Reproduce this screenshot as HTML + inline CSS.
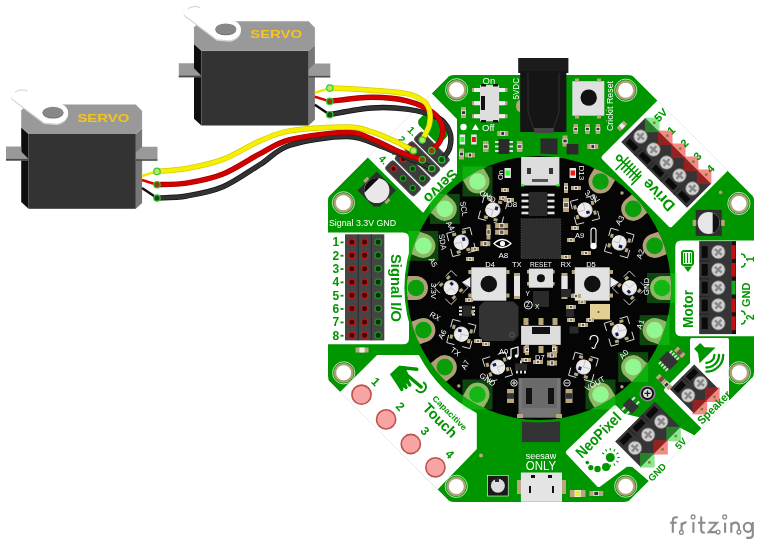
<!DOCTYPE html><html><head><meta charset="utf-8"><style>html,body{margin:0;padding:0;background:#fff;overflow:hidden}svg{display:block;will-change:transform}text{font-family:"Liberation Sans",sans-serif}</style></head><body>
<svg width="766" height="548" viewBox="0 0 766 548">
<rect width="766" height="548" fill="#fff"/>
<path d="M454,75 L628,75 Q632,75 634,77 L752,195 Q754,197 754,201 L754,372 Q754,376 752,378 L630,500 Q628,502 624,502 L454,502 Q450,502 448,500 L330,382 Q328,380 328,376 L328,201 Q328,197 330,195 L448,77 Q450,75 454,75 Z" fill="#009600"/>
<path d="M430.9,93.9 L456,119.5 L456,176.5 A139,139 0 0 0 423,211.4 L368.25,156.55 Z" fill="#fff" stroke="#fff" stroke-linejoin="round" stroke-width="2"/>
<path d="M328,232.5 L403,232.5 Q409,232.5 409,238.5 L409,338.3 Q409,344.3 403,344.3 L328,344.3 Z" fill="#fff"/>
<path d="M341.6,392.6 L377.9,356.4 L418,356.4 A140,140 0 0 0 475.3,414 L475.3,448.5 L437.5,487.5 Z" fill="#fff" stroke="#fff" stroke-linejoin="round" stroke-width="3"/>
<polygon points="659.2,102.2 604,157.4 670.5,224.7 726,169" fill="#fff" stroke="#fff" stroke-linejoin="round" stroke-width="5"/>
<path d="M681.3,240.4 L754,240.4 L754,336.2 L681.3,336.2 Q675.3,336.2 675.3,330.2 L675.3,246.4 Q675.3,240.4 681.3,240.4 Z" fill="#fff"/>
<polygon points="692,340 727,340 727,403 703,427 666,390 692,364" fill="#fff" stroke="#fff" stroke-linejoin="round" stroke-width="4"/>
<polygon points="568.3,452.3 614.9,407.8 623,416 660,425 679,430 692.7,437.3 651,479.5 633.5,464.5 626.5,464 598.8,484.5" fill="#fff" stroke="#fff" stroke-linejoin="round" stroke-width="5"/>
<path d="M634,77 L752,195 M752,378 L630,500 M448,500 L330,382 M330,195 L448,77" stroke="#e6e6e6" stroke-width="0.8" fill="none"/>
<circle cx="456.6" cy="89.8" r="11.1" fill="none" stroke="#c8ecc8" stroke-width="0.9"/><circle cx="456.6" cy="89.8" r="9.9" fill="#b0a078"/><circle cx="456.6" cy="89.8" r="7.5" fill="#fff"/>
<circle cx="343.4" cy="202.8" r="11.1" fill="none" stroke="#c8ecc8" stroke-width="0.9"/><circle cx="343.4" cy="202.8" r="9.9" fill="#b0a078"/><circle cx="343.4" cy="202.8" r="7.5" fill="#fff"/>
<circle cx="738.9" cy="203.5" r="11.1" fill="none" stroke="#c8ecc8" stroke-width="0.9"/><circle cx="738.9" cy="203.5" r="9.9" fill="#b0a078"/><circle cx="738.9" cy="203.5" r="7.5" fill="#fff"/>
<circle cx="739.4" cy="372.8" r="11.1" fill="none" stroke="#c8ecc8" stroke-width="0.9"/><circle cx="739.4" cy="372.8" r="9.9" fill="#b0a078"/><circle cx="739.4" cy="372.8" r="7.5" fill="#fff"/>
<circle cx="625.7" cy="486.2" r="11.1" fill="none" stroke="#c8ecc8" stroke-width="0.9"/><circle cx="625.7" cy="486.2" r="9.9" fill="#b0a078"/><circle cx="625.7" cy="486.2" r="7.5" fill="#fff"/>
<circle cx="456.3" cy="486.4" r="11.1" fill="none" stroke="#c8ecc8" stroke-width="0.9"/><circle cx="456.3" cy="486.4" r="9.9" fill="#b0a078"/><circle cx="456.3" cy="486.4" r="7.5" fill="#fff"/>
<circle cx="343.7" cy="372.8" r="11.1" fill="none" stroke="#c8ecc8" stroke-width="0.9"/><circle cx="343.7" cy="372.8" r="9.9" fill="#b0a078"/><circle cx="343.7" cy="372.8" r="7.5" fill="#fff"/>
<circle cx="625.7" cy="90.2" r="11.1" fill="none" stroke="#c8ecc8" stroke-width="0.9"/><circle cx="625.7" cy="90.2" r="9.9" fill="#b0a078"/><circle cx="625.7" cy="90.2" r="7.5" fill="#fff"/>
<g transform="translate(692.1,188.8) rotate(-135.0)">
<rect x="-9.8" y="-17.0" width="93.0" height="34.0" fill="#353535"/>
<rect x="-6.1" y="-14.5" width="12.1" height="6" fill="#0a0a0a"/>
<rect x="8.6" y="-17.0" width="1.2" height="9.4" fill="#262626"/>
<circle cx="0.0" cy="0.5" r="6.8" fill="#cfcfcf" stroke="#777" stroke-width="0.8"/>
<path d="M-4.5,0.5 h9 M0.0,-4 v9" stroke="#8a8a8a" stroke-width="2.4" transform="rotate(175.0 0.0 0.5)"/>
<rect x="12.3" y="-14.5" width="12.1" height="6" fill="#0a0a0a"/>
<rect x="26.9" y="-17.0" width="1.2" height="9.4" fill="#262626"/>
<circle cx="18.4" cy="0.5" r="6.8" fill="#cfcfcf" stroke="#777" stroke-width="0.8"/>
<path d="M13.9,0.5 h9 M18.4,-4 v9" stroke="#8a8a8a" stroke-width="2.4" transform="rotate(175.0 18.4 0.5)"/>
<rect x="30.6" y="-14.5" width="12.1" height="6" fill="#0a0a0a"/>
<rect x="45.3" y="-17.0" width="1.2" height="9.4" fill="#262626"/>
<circle cx="36.7" cy="0.5" r="6.8" fill="#cfcfcf" stroke="#777" stroke-width="0.8"/>
<path d="M32.2,0.5 h9 M36.7,-4 v9" stroke="#8a8a8a" stroke-width="2.4" transform="rotate(175.0 36.7 0.5)"/>
<rect x="49.0" y="-14.5" width="12.1" height="6" fill="#0a0a0a"/>
<rect x="63.6" y="-17.0" width="1.2" height="9.4" fill="#262626"/>
<circle cx="55.1" cy="0.5" r="6.8" fill="#cfcfcf" stroke="#777" stroke-width="0.8"/>
<path d="M50.6,0.5 h9 M55.1,-4 v9" stroke="#8a8a8a" stroke-width="2.4" transform="rotate(175.0 55.1 0.5)"/>
<rect x="67.3" y="-14.5" width="12.1" height="6" fill="#0a0a0a"/>
<circle cx="73.4" cy="0.5" r="6.8" fill="#cfcfcf" stroke="#777" stroke-width="0.8"/>
<path d="M68.9,0.5 h9 M73.4,-4 v9" stroke="#8a8a8a" stroke-width="2.4" transform="rotate(175.0 73.4 0.5)"/>
</g>
<rect x="696.8" y="169.5" width="14.6" height="14.6" fill="#ee1111" opacity="0.5"/>
<circle cx="706.2" cy="174.7" r="1.4" fill="#6a8a20"/>
<rect x="683.8" y="156.5" width="14.6" height="14.6" fill="#ee1111" opacity="0.5"/>
<circle cx="693.3" cy="161.7" r="1.4" fill="#6a8a20"/>
<rect x="670.9" y="143.5" width="14.6" height="14.6" fill="#ee1111" opacity="0.5"/>
<circle cx="680.3" cy="148.7" r="1.4" fill="#6a8a20"/>
<rect x="657.9" y="130.6" width="14.6" height="14.6" fill="#ee1111" opacity="0.5"/>
<circle cx="667.3" cy="135.7" r="1.4" fill="#6a8a20"/>
<rect x="644.9" y="117.6" width="14.6" height="14.6" fill="#22cc22" opacity="0.5"/>
<circle cx="654.3" cy="122.8" r="1.4" fill="#6a8a20"/>
<g transform="translate(717.8,323.2) rotate(-90.0)">
<rect x="-10.9" y="-18.6" width="93.0" height="32.0" fill="#353535"/>
<rect x="-5.9" y="-16.1" width="11.7" height="6" fill="#0a0a0a"/>
<rect x="8.3" y="-18.6" width="1.2" height="10.2" fill="#262626"/>
<circle cx="0.0" cy="0.5" r="6.8" fill="#cfcfcf" stroke="#777" stroke-width="0.8"/>
<path d="M-4.5,0.5 h9 M0.0,-4 v9" stroke="#8a8a8a" stroke-width="2.4" transform="rotate(130.0 0.0 0.5)"/>
<rect x="11.9" y="-16.1" width="11.7" height="6" fill="#0a0a0a"/>
<rect x="26.1" y="-18.6" width="1.2" height="10.2" fill="#262626"/>
<circle cx="17.8" cy="0.5" r="6.8" fill="#cfcfcf" stroke="#777" stroke-width="0.8"/>
<path d="M13.3,0.5 h9 M17.8,-4 v9" stroke="#8a8a8a" stroke-width="2.4" transform="rotate(130.0 17.8 0.5)"/>
<rect x="29.7" y="-16.1" width="11.7" height="6" fill="#0a0a0a"/>
<rect x="43.9" y="-18.6" width="1.2" height="10.2" fill="#262626"/>
<circle cx="35.6" cy="0.5" r="6.8" fill="#cfcfcf" stroke="#777" stroke-width="0.8"/>
<path d="M31.1,0.5 h9 M35.6,-4 v9" stroke="#8a8a8a" stroke-width="2.4" transform="rotate(130.0 35.6 0.5)"/>
<rect x="47.5" y="-16.1" width="11.7" height="6" fill="#0a0a0a"/>
<rect x="61.7" y="-18.6" width="1.2" height="10.2" fill="#262626"/>
<circle cx="53.4" cy="0.5" r="6.8" fill="#cfcfcf" stroke="#777" stroke-width="0.8"/>
<path d="M48.9,0.5 h9 M53.4,-4 v9" stroke="#8a8a8a" stroke-width="2.4" transform="rotate(130.0 53.4 0.5)"/>
<rect x="65.3" y="-16.1" width="11.7" height="6" fill="#0a0a0a"/>
<circle cx="71.2" cy="0.5" r="6.8" fill="#cfcfcf" stroke="#777" stroke-width="0.8"/>
<path d="M66.7,0.5 h9 M71.2,-4 v9" stroke="#8a8a8a" stroke-width="2.4" transform="rotate(130.0 71.2 0.5)"/>
<rect x="-10.9" y="13.4" width="93.0" height="4.8" fill="#111"/>
<rect x="-6.9" y="13.8" width="13.8" height="4" fill="#ee1111" opacity="0.8"/>
<rect x="10.9" y="13.8" width="13.8" height="4" fill="#ee1111" opacity="0.8"/>
<rect x="28.7" y="13.8" width="13.8" height="4" fill="#22cc22" opacity="0.8"/>
<rect x="46.5" y="13.8" width="13.8" height="4" fill="#ee1111" opacity="0.8"/>
<rect x="64.3" y="13.8" width="13.8" height="4" fill="#ee1111" opacity="0.8"/>
</g>
<g transform="translate(687.8,395.1) rotate(-45.0)">
<rect x="-8.5" y="-17.0" width="34.6" height="34.0" fill="#353535"/>
<rect x="-5.8" y="-14.5" width="11.6" height="6" fill="#0a0a0a"/>
<rect x="8.2" y="-17.0" width="1.2" height="9.4" fill="#262626"/>
<circle cx="0.0" cy="0.5" r="6.8" fill="#cfcfcf" stroke="#777" stroke-width="0.8"/>
<path d="M-4.5,0.5 h9 M0.0,-4 v9" stroke="#8a8a8a" stroke-width="2.4" transform="rotate(85.0 0.0 0.5)"/>
<rect x="11.8" y="-14.5" width="11.6" height="6" fill="#0a0a0a"/>
<circle cx="17.6" cy="0.5" r="6.8" fill="#cfcfcf" stroke="#777" stroke-width="0.8"/>
<path d="M13.1,0.5 h9 M17.6,-4 v9" stroke="#8a8a8a" stroke-width="2.4" transform="rotate(85.0 17.6 0.5)"/>
</g>
<rect x="692.5" y="399.8" width="14.6" height="14.6" fill="#ee1111" opacity="0.5"/>
<circle cx="701.9" cy="409.2" r="1.4" fill="#6a8a20"/>
<rect x="705.0" y="387.4" width="14.6" height="14.6" fill="#ee1111" opacity="0.5"/>
<circle cx="714.4" cy="396.8" r="1.4" fill="#6a8a20"/>
<g transform="translate(634.6,447.6) rotate(-45.0)">
<rect x="-9.5" y="-18.0" width="56.2" height="36.0" fill="#353535"/>
<rect x="-6.1" y="-15.5" width="12.3" height="6" fill="#0a0a0a"/>
<rect x="8.7" y="-18.0" width="1.2" height="9.9" fill="#262626"/>
<circle cx="0.0" cy="0.5" r="6.8" fill="#cfcfcf" stroke="#777" stroke-width="0.8"/>
<path d="M-4.5,0.5 h9 M0.0,-4 v9" stroke="#8a8a8a" stroke-width="2.4" transform="rotate(85.0 0.0 0.5)"/>
<rect x="12.5" y="-15.5" width="12.3" height="6" fill="#0a0a0a"/>
<rect x="27.3" y="-18.0" width="1.2" height="9.9" fill="#262626"/>
<circle cx="18.6" cy="0.5" r="6.8" fill="#cfcfcf" stroke="#777" stroke-width="0.8"/>
<path d="M14.1,0.5 h9 M18.6,-4 v9" stroke="#8a8a8a" stroke-width="2.4" transform="rotate(85.0 18.6 0.5)"/>
<rect x="31.1" y="-15.5" width="12.3" height="6" fill="#0a0a0a"/>
<circle cx="37.2" cy="0.5" r="6.8" fill="#cfcfcf" stroke="#777" stroke-width="0.8"/>
<path d="M32.7,0.5 h9 M37.2,-4 v9" stroke="#8a8a8a" stroke-width="2.4" transform="rotate(85.0 37.2 0.5)"/>
</g>
<rect x="640.0" y="453.0" width="14.6" height="14.6" fill="#22cc22" opacity="0.5"/>
<circle cx="649.4" cy="462.4" r="1.4" fill="#6a8a20"/>
<rect x="653.2" y="439.9" width="14.6" height="14.6" fill="#ee1111" opacity="0.5"/>
<circle cx="662.6" cy="449.3" r="1.4" fill="#6a8a20"/>
<rect x="666.3" y="426.7" width="14.6" height="14.6" fill="#22cc22" opacity="0.5"/>
<circle cx="675.8" cy="436.1" r="1.4" fill="#6a8a20"/>
<text transform="translate(658.7,122.4) rotate(-45.0)" font-size="11.0" fill="#009600" font-weight="bold">5V</text>
<text transform="translate(671.8,135.2) rotate(-45.0)" font-size="11.0" fill="#009600" font-weight="bold">1</text>
<text transform="translate(684.9,148.1) rotate(-45.0)" font-size="11.0" fill="#009600" font-weight="bold">2</text>
<text transform="translate(698.0,160.9) rotate(-45.0)" font-size="11.0" fill="#009600" font-weight="bold">3</text>
<text transform="translate(711.1,173.8) rotate(-45.0)" font-size="11.0" fill="#009600" font-weight="bold">4</text>
<text transform="translate(676.0,205.0) rotate(-135.0)" font-size="15.5" fill="#009600" font-weight="bold">Drive</text>
<g transform="translate(619.3,158.1) rotate(45)" stroke="#009600" stroke-width="1.6" stroke-linecap="round" fill="none"><circle r="2.5"/><path d="M2.5,0 H26 M5.7,-6.6 V10.4 M9.5,-5.5 V6.5 M13.3,-5.5 V6.5 M17.1,-5.5 V6.5 M20.9,-5.5 V6.5 M24.7,-5.5 V6.5 M27.5,-3 V10"/></g>
<text transform="translate(693.0,328.0) rotate(-90.0)" font-size="14.0" fill="#009600" textLength="38.0" lengthAdjust="spacingAndGlyphs" font-weight="bold">Motor</text>
<rect x="682" y="251" width="11" height="14" rx="2" fill="none" stroke="#009600" stroke-width="2"/>
<path d="M684.5,253 v10 M687.5,253 v10 M690.5,253 v10 M685,267 h6 l-3,4z" stroke="#009600" stroke-width="1.2" fill="#009600"/>
<text transform="translate(750.0,307.0) rotate(-90.0)" font-size="11.0" fill="#009600" font-weight="bold">GND</text>
<path d="M741,254 q4,0 4,4 M741,267 q4,0 4,-4 M741,311 q4,0 4,4 M741,324 q4,0 4,-4" stroke="#009600" stroke-width="1.6" fill="none"/>
<text transform="translate(754.0,262.0) rotate(-90.0)" font-size="10.0" fill="#009600" font-weight="bold">1</text>
<text transform="translate(754.0,320.0) rotate(-90.0)" font-size="10.0" fill="#009600" font-weight="bold">2</text>
<text transform="translate(702.0,425.0) rotate(-45.0)" font-size="11.5" fill="#009600" textLength="42.0" lengthAdjust="spacingAndGlyphs" font-weight="bold">Speaker</text>
<path d="M694.1,348.7 L700.3,343 L704.5,347.2 L715.6,347.6 L699.5,363.3 L698,353 Z" fill="#009600"/>
<path d="M706.4,362.9 A8,8 0 0 0 714.4,354.9 M706.4,367.5 A12.6,12.6 0 0 0 719,354.9 M706.4,371.7 A16.8,16.8 0 0 0 723.2,354.9" stroke="#009600" stroke-width="2.3" fill="none" stroke-linecap="round"/>
<text transform="translate(582.0,459.0) rotate(-45.0)" font-size="15.5" fill="#009600" textLength="57.0" lengthAdjust="spacingAndGlyphs" font-weight="bold">NeoPixel</text>
<text transform="translate(652.0,482.0) rotate(-45.0)" font-size="9.5" fill="#009600" font-weight="bold">GND</text>
<text transform="translate(679.0,450.0) rotate(-45.0)" font-size="9.5" fill="#009600" font-weight="bold">5V</text>
<circle cx="610.3" cy="457.5" r="4.5" fill="#009600"/>
<line x1="604.2" y1="454.0" x2="602.1" y2="452.8" stroke="#009600" stroke-width="1.1"/>
<line x1="606.8" y1="451.4" x2="605.5" y2="449.3" stroke="#009600" stroke-width="1.1"/>
<line x1="610.3" y1="450.5" x2="610.3" y2="448.0" stroke="#009600" stroke-width="1.1"/>
<line x1="613.8" y1="451.4" x2="615.0" y2="449.3" stroke="#009600" stroke-width="1.1"/>
<line x1="616.4" y1="454.0" x2="618.5" y2="452.8" stroke="#009600" stroke-width="1.1"/>
<line x1="617.3" y1="457.5" x2="619.8" y2="457.5" stroke="#009600" stroke-width="1.1"/>
<line x1="616.4" y1="461.0" x2="618.5" y2="462.2" stroke="#009600" stroke-width="1.1"/>
<line x1="613.8" y1="463.6" x2="615.0" y2="465.7" stroke="#009600" stroke-width="1.1"/>
<line x1="610.3" y1="464.5" x2="610.3" y2="467.0" stroke="#009600" stroke-width="1.1"/>
<line x1="606.8" y1="463.6" x2="605.5" y2="465.7" stroke="#009600" stroke-width="1.1"/>
<circle cx="587.3" cy="462.6" r="1.8" fill="#009600"/><circle cx="590.8" cy="467.6" r="2.6" fill="#009600"/><circle cx="597.5" cy="469" r="3.2" fill="#009600"/><circle cx="606" cy="467" r="4" fill="#009600"/>
<text transform="translate(431.8,398.9) rotate(45.0)" font-size="8.2" fill="#009600" textLength="45.0" lengthAdjust="spacingAndGlyphs" font-weight="bold">Capacitive</text>
<text transform="translate(421.7,409.0) rotate(45.0)" font-size="14.5" fill="#009600" textLength="42.0" lengthAdjust="spacingAndGlyphs" font-weight="bold">Touch</text>
<circle cx="361.5" cy="394.7" r="9.6" fill="#f6a4a4" stroke="#c0504a" stroke-width="1.6"/>
<text transform="translate(370.5,382.2) rotate(45.0)" font-size="12.0" fill="#009600" font-weight="bold">1</text>
<circle cx="386.1" cy="419.4" r="9.6" fill="#f6a4a4" stroke="#c0504a" stroke-width="1.6"/>
<text transform="translate(395.1,406.9) rotate(45.0)" font-size="12.0" fill="#009600" font-weight="bold">2</text>
<circle cx="410.8" cy="444.0" r="9.6" fill="#f6a4a4" stroke="#c0504a" stroke-width="1.6"/>
<text transform="translate(419.8,431.5) rotate(45.0)" font-size="12.0" fill="#009600" font-weight="bold">3</text>
<circle cx="435.4" cy="467.3" r="9.6" fill="#f6a4a4" stroke="#c0504a" stroke-width="1.6"/>
<text transform="translate(444.4,454.8) rotate(45.0)" font-size="12.0" fill="#009600" font-weight="bold">4</text>
<path d="M389.9,374.3 L399,365.7 L405,366.5 L410,378 L405,386 L401,391 Z" fill="#009600"/>
<path d="M400.5,367.5 L416.8,369.2 M404,372.5 L421.2,387 M398.5,381 L401.8,389.5 M402,379 L406,387.5 M405.5,378 L409.8,385" stroke="#009600" stroke-width="3.4" stroke-linecap="round" fill="none"/>
<path d="M416.4,390 A5.3,5.3 0 1 0 423.8,382.6" stroke="#009600" stroke-width="2" fill="none" stroke-linecap="round"/>
<rect x="345" y="234.3" width="39.3" height="106.1" fill="#454545"/>
<path d="M358.2,234.3 v106.1 M371.3,234.3 v106.1" stroke="#2a2a2a" stroke-width="1"/>
<circle cx="351.9" cy="242.0" r="3.2" fill="#4a0606" stroke="#c41818" stroke-width="1.3"/>
<circle cx="364.6" cy="242.0" r="3.2" fill="#4a0606" stroke="#c41818" stroke-width="1.3"/>
<circle cx="378.2" cy="242.0" r="3.2" fill="#083008" stroke="#1c9a1c" stroke-width="1.3"/>
<text x="332.5" y="246.3" font-size="12.0" fill="#009600" font-weight="bold">1</text>
<rect x="340.5" y="241.5" width="3" height="1.8" fill="#009600"/>
<circle cx="351.9" cy="255.3" r="3.2" fill="#4a0606" stroke="#c41818" stroke-width="1.3"/>
<circle cx="364.6" cy="255.3" r="3.2" fill="#4a0606" stroke="#c41818" stroke-width="1.3"/>
<circle cx="378.2" cy="255.3" r="3.2" fill="#083008" stroke="#1c9a1c" stroke-width="1.3"/>
<text x="332.5" y="259.6" font-size="12.0" fill="#009600" font-weight="bold">2</text>
<rect x="340.5" y="254.8" width="3" height="1.8" fill="#009600"/>
<circle cx="351.9" cy="268.7" r="3.2" fill="#4a0606" stroke="#c41818" stroke-width="1.3"/>
<circle cx="364.6" cy="268.7" r="3.2" fill="#4a0606" stroke="#c41818" stroke-width="1.3"/>
<circle cx="378.2" cy="268.7" r="3.2" fill="#083008" stroke="#1c9a1c" stroke-width="1.3"/>
<text x="332.5" y="273.0" font-size="12.0" fill="#009600" font-weight="bold">3</text>
<rect x="340.5" y="268.2" width="3" height="1.8" fill="#009600"/>
<circle cx="351.9" cy="282.0" r="3.2" fill="#4a0606" stroke="#c41818" stroke-width="1.3"/>
<circle cx="364.6" cy="282.0" r="3.2" fill="#4a0606" stroke="#c41818" stroke-width="1.3"/>
<circle cx="378.2" cy="282.0" r="3.2" fill="#083008" stroke="#1c9a1c" stroke-width="1.3"/>
<text x="332.5" y="286.3" font-size="12.0" fill="#009600" font-weight="bold">4</text>
<rect x="340.5" y="281.5" width="3" height="1.8" fill="#009600"/>
<circle cx="351.9" cy="295.3" r="3.2" fill="#4a0606" stroke="#c41818" stroke-width="1.3"/>
<circle cx="364.6" cy="295.3" r="3.2" fill="#4a0606" stroke="#c41818" stroke-width="1.3"/>
<circle cx="378.2" cy="295.3" r="3.2" fill="#083008" stroke="#1c9a1c" stroke-width="1.3"/>
<text x="332.5" y="299.6" font-size="12.0" fill="#009600" font-weight="bold">5</text>
<rect x="340.5" y="294.8" width="3" height="1.8" fill="#009600"/>
<circle cx="351.9" cy="308.6" r="3.2" fill="#4a0606" stroke="#c41818" stroke-width="1.3"/>
<circle cx="364.6" cy="308.6" r="3.2" fill="#4a0606" stroke="#c41818" stroke-width="1.3"/>
<circle cx="378.2" cy="308.6" r="3.2" fill="#083008" stroke="#1c9a1c" stroke-width="1.3"/>
<text x="332.5" y="312.9" font-size="12.0" fill="#009600" font-weight="bold">6</text>
<rect x="340.5" y="308.1" width="3" height="1.8" fill="#009600"/>
<circle cx="351.9" cy="322.0" r="3.2" fill="#4a0606" stroke="#c41818" stroke-width="1.3"/>
<circle cx="364.6" cy="322.0" r="3.2" fill="#4a0606" stroke="#c41818" stroke-width="1.3"/>
<circle cx="378.2" cy="322.0" r="3.2" fill="#083008" stroke="#1c9a1c" stroke-width="1.3"/>
<text x="332.5" y="326.3" font-size="12.0" fill="#009600" font-weight="bold">7</text>
<rect x="340.5" y="321.5" width="3" height="1.8" fill="#009600"/>
<circle cx="351.9" cy="335.3" r="3.2" fill="#4a0606" stroke="#c41818" stroke-width="1.3"/>
<circle cx="364.6" cy="335.3" r="3.2" fill="#4a0606" stroke="#c41818" stroke-width="1.3"/>
<circle cx="378.2" cy="335.3" r="3.2" fill="#083008" stroke="#1c9a1c" stroke-width="1.3"/>
<text x="332.5" y="339.6" font-size="12.0" fill="#009600" font-weight="bold">8</text>
<rect x="340.5" y="334.8" width="3" height="1.8" fill="#009600"/>
<text x="329.0" y="225.5" font-size="9.4" fill="#fff" textLength="67.0" lengthAdjust="spacingAndGlyphs">Signal 3.3V GND</text>
<text transform="translate(390.5,254.0) rotate(90.0)" font-size="15.5" fill="#009600" textLength="68.0" lengthAdjust="spacingAndGlyphs" font-weight="bold">Signal I/O</text>
<g transform="translate(362.0,350.0) rotate(0.0)"><rect x="-6.5" y="-2.5" width="13.0" height="5.0" fill="#b8a77c"/><rect x="-2.6" y="-2.5" width="5.2" height="5.0" fill="#eee"/></g>
<g transform="translate(433,128) rotate(45)"><rect x="-16" y="-8" width="32" height="16" rx="5" fill="#009600"/></g>
<g transform="translate(422.3,140.0) rotate(45)"><rect x="-7" y="-5.9" width="41" height="11.8" rx="3" fill="#3c3c3c" stroke="#5a5a5a" stroke-width="0.9"/></g>
<circle cx="422.3" cy="140.0" r="2.7" fill="#4a0606" stroke="#c41818" stroke-width="1.2"/>
<circle cx="431.9" cy="149.6" r="2.7" fill="#083008" stroke="#1c9a1c" stroke-width="1.2"/>
<circle cx="441.5" cy="159.2" r="2.7" fill="#083008" stroke="#1c9a1c" stroke-width="1.2"/>
<g transform="translate(412.7,149.6) rotate(45)"><rect x="-7" y="-5.9" width="41" height="11.8" rx="3" fill="#3c3c3c" stroke="#5a5a5a" stroke-width="0.9"/></g>
<circle cx="412.7" cy="149.6" r="2.7" fill="#4a0606" stroke="#c41818" stroke-width="1.2"/>
<circle cx="422.3" cy="159.2" r="2.7" fill="#083008" stroke="#1c9a1c" stroke-width="1.2"/>
<circle cx="431.9" cy="168.8" r="2.7" fill="#083008" stroke="#1c9a1c" stroke-width="1.2"/>
<g transform="translate(403.1,159.2) rotate(45)"><rect x="-7" y="-5.9" width="41" height="11.8" rx="3" fill="#3c3c3c" stroke="#5a5a5a" stroke-width="0.9"/></g>
<circle cx="403.1" cy="159.2" r="2.7" fill="#4a0606" stroke="#c41818" stroke-width="1.2"/>
<circle cx="412.7" cy="168.8" r="2.7" fill="#083008" stroke="#1c9a1c" stroke-width="1.2"/>
<circle cx="422.3" cy="178.4" r="2.7" fill="#083008" stroke="#1c9a1c" stroke-width="1.2"/>
<g transform="translate(393.5,168.8) rotate(45)"><rect x="-7" y="-5.9" width="41" height="11.8" rx="3" fill="#3c3c3c" stroke="#5a5a5a" stroke-width="0.9"/></g>
<circle cx="393.5" cy="168.8" r="2.7" fill="#4a0606" stroke="#c41818" stroke-width="1.2"/>
<circle cx="403.1" cy="178.4" r="2.7" fill="#083008" stroke="#1c9a1c" stroke-width="1.2"/>
<circle cx="412.7" cy="188.0" r="2.7" fill="#083008" stroke="#1c9a1c" stroke-width="1.2"/>
<text transform="translate(406.8,130.5) rotate(45.0)" font-size="10.0" fill="#009600" font-weight="bold">1.</text>
<text transform="translate(397.2,140.1) rotate(45.0)" font-size="10.0" fill="#009600" font-weight="bold">2.</text>
<text transform="translate(387.6,149.7) rotate(45.0)" font-size="10.0" fill="#009600" font-weight="bold">3.</text>
<text transform="translate(378.0,159.3) rotate(45.0)" font-size="10.0" fill="#009600" font-weight="bold">4.</text>
<text transform="translate(452.0,168.0) rotate(135.0)" font-size="15.0" fill="#009600" font-weight="bold">Servo</text>
<circle cx="720.6" cy="192.4" r="1.8" fill="#b0a078"/>
<g transform="translate(376.8,190.5) rotate(45)"><rect x="-16.5" y="-2.8" width="4" height="5.6" fill="#b8a57a"/><rect x="12.5" y="-2.8" width="4" height="5.6" fill="#b8a57a"/><path d="M-13.5,-13.5 H13.5 V9 L9,13.5 H-13.5 Z" fill="#2e2e2e"/><circle r="12.6" fill="#e8e8e8"/><path d="M-7.2,-10.3 A12.6,12.6 0 0 0 -7.2,10.3 Z" fill="#0c0c0c"/></g>
<g transform="translate(708.7,222.9)"><rect x="-13" y="-13" width="26" height="26" fill="#2e2e2e"/><rect x="-16" y="-3" width="3.5" height="6" fill="#b8a57a"/><rect x="12.5" y="-3" width="3.5" height="6" fill="#b8a57a"/><circle r="11" fill="#e6e6e6"/><path d="M4,-10.2 A11,11 0 0 1 4,10.2 Z" fill="#111"/></g>
<rect x="518.2" y="58" width="50.2" height="15" fill="#1c1c1c"/>
<rect x="520.2" y="71" width="46.2" height="61" fill="#151515"/>
<path d="M528,73 V112 L534,130 H553 L559,112 V73" fill="none" stroke="#2c2c2c" stroke-width="1.2"/>
<rect x="534" y="128" width="20" height="5" fill="#444"/>
<path d="M520,100 a4,6 0 0 0 0,12 z" fill="#b8a77c"/>
<rect x="472" y="88.0" width="35.5" height="4" fill="#b8a77c"/>
<rect x="474" y="88.0" width="31" height="4" fill="#eee"/>
<rect x="472" y="101.2" width="35.5" height="4" fill="#b8a77c"/>
<rect x="474" y="101.2" width="31" height="4" fill="#eee"/>
<rect x="472" y="114.2" width="35.5" height="4" fill="#b8a77c"/>
<rect x="474" y="114.2" width="31" height="4" fill="#eee"/>
<rect x="480" y="85.1" width="19.1" height="36.1" fill="#dedede"/>
<rect x="481" y="84" width="5" height="2.5" fill="#111"/><rect x="493" y="84" width="5" height="2.5" fill="#111"/><rect x="481" y="120" width="5" height="2.5" fill="#111"/><rect x="493" y="120" width="5" height="2.5" fill="#111"/>
<rect x="481" y="96" width="4" height="14" fill="#111"/>
<text x="482.5" y="83.8" font-size="9.5" fill="#fff">On</text>
<text x="482.0" y="130.8" font-size="9.5" fill="#fff">Off</text>
<text transform="translate(519.0,99.5) rotate(-90.0)" font-size="9.5" fill="#fff" textLength="21.5" lengthAdjust="spacingAndGlyphs">5VDC</text>
<circle cx="463.5" cy="127" r="3.2" fill="#fff"/><path d="M472,130 l3.5,-6 l3.5,6 z" fill="#fff"/>
<rect x="572.3" y="81.2" width="32" height="34.5" fill="#e0e0e0"/>
<rect x="575" y="78.5" width="4" height="3" fill="#b8a77c"/><rect x="597" y="78.5" width="4" height="3" fill="#b8a77c"/><rect x="575" y="115.5" width="4" height="3" fill="#b8a77c"/><rect x="597" y="115.5" width="4" height="3" fill="#b8a77c"/>
<circle cx="588.7" cy="97.6" r="8.2" fill="#111"/>
<text transform="translate(613.0,131.0) rotate(-90.0)" font-size="8.2" fill="#fff" textLength="50.0" lengthAdjust="spacingAndGlyphs">Crickit Reset</text>
<g transform="translate(622.0,126.0) rotate(-45.0)"><rect x="-5.0" y="-2.5" width="10.0" height="5.0" fill="#b8a77c"/><rect x="-2.0" y="-2.5" width="4.0" height="5.0" fill="#eee"/></g>
<rect x="459.6" y="134.5" width="5.5" height="10" fill="#e8e8e8"/><rect x="460.4" y="137" width="3.9" height="5" fill="#2f2"/>
<rect x="471.2" y="134.5" width="5.5" height="10" fill="#e8e8e8"/><rect x="472" y="137" width="3.9" height="5" fill="#e11"/>
<g transform="translate(463.5,112.6) rotate(90.0)"><rect x="-5.5" y="-2.5" width="11.0" height="5.0" fill="#b8a77c"/><rect x="-2.2" y="-2.5" width="4.4" height="5.0" fill="#eee"/><rect x="-1.4" y="-1.7" width="2.8" height="3.4" fill="#333"/></g>
<g transform="translate(461.5,154.0) rotate(90.0)"><rect x="-5.5" y="-2.5" width="11.0" height="5.0" fill="#b8a77c"/><rect x="-2.2" y="-2.5" width="4.4" height="5.0" fill="#eee"/><rect x="-1.4" y="-1.7" width="2.8" height="3.4" fill="#333"/></g>
<g transform="translate(485.7,146.5) rotate(90.0)"><rect x="-5.5" y="-2.8" width="11.0" height="5.5" fill="#b8a77c"/><rect x="-2.2" y="-2.8" width="4.4" height="5.5" fill="#eee"/><rect x="-1.4" y="-1.9" width="2.8" height="3.9" fill="#6a5040"/></g>
<g transform="translate(502.7,133.5) rotate(0.0)"><rect x="-5.5" y="-2.5" width="11.0" height="5.0" fill="#b8a77c"/><rect x="-2.2" y="-2.5" width="4.4" height="5.0" fill="#eee"/><rect x="-1.4" y="-1.7" width="2.8" height="3.4" fill="#333"/></g>
<g transform="translate(519.6,146.5) rotate(90.0)"><rect x="-5.5" y="-2.8" width="11.0" height="5.5" fill="#b8a77c"/><rect x="-2.2" y="-2.8" width="4.4" height="5.5" fill="#eee"/><rect x="-1.4" y="-1.9" width="2.8" height="3.9" fill="#6a5040"/></g>
<g transform="translate(565.0,141.0) rotate(90.0)"><rect x="-5.5" y="-2.5" width="11.0" height="5.0" fill="#b8a77c"/><rect x="-2.2" y="-2.5" width="4.4" height="5.0" fill="#eee"/><rect x="-1.4" y="-1.7" width="2.8" height="3.4" fill="#333"/></g>
<g transform="translate(575.8,129.0) rotate(90.0)"><rect x="-5.0" y="-2.2" width="10.0" height="4.5" fill="#b8a77c"/><rect x="-2.0" y="-2.2" width="4.0" height="4.5" fill="#eee"/><rect x="-1.2" y="-1.4" width="2.4" height="2.9" fill="#333"/></g>
<g transform="translate(587.5,129.0) rotate(90.0)"><rect x="-5.0" y="-2.2" width="10.0" height="4.5" fill="#b8a77c"/><rect x="-2.0" y="-2.2" width="4.0" height="4.5" fill="#eee"/><rect x="-1.2" y="-1.4" width="2.4" height="2.9" fill="#333"/></g>
<g transform="translate(598.0,129.0) rotate(90.0)"><rect x="-5.0" y="-2.2" width="10.0" height="4.5" fill="#b8a77c"/><rect x="-2.0" y="-2.2" width="4.0" height="4.5" fill="#eee"/><rect x="-1.2" y="-1.4" width="2.4" height="2.9" fill="#333"/></g>
<g transform="translate(592.8,146.5) rotate(0.0)"><rect x="-5.5" y="-2.5" width="11.0" height="5.0" fill="#b8a77c"/><rect x="-2.2" y="-2.5" width="4.4" height="5.0" fill="#eee"/><rect x="-1.4" y="-1.7" width="2.8" height="3.4" fill="#333"/></g>
<g transform="translate(470.0,155.0) rotate(0.0)"><rect x="-5.0" y="-2.2" width="10.0" height="4.5" fill="#b8a77c"/><rect x="-2.0" y="-2.2" width="4.0" height="4.5" fill="#eee"/><rect x="-1.2" y="-1.4" width="2.4" height="2.9" fill="#333"/></g>
<rect x="498.5" y="139" width="11" height="15" fill="#2a2a2a"/>
<rect x="495" y="141.0" width="3.5" height="2" fill="#ddd"/><rect x="509.5" y="141.0" width="3.5" height="2" fill="#ddd"/>
<rect x="495" y="145.5" width="3.5" height="2" fill="#ddd"/><rect x="509.5" y="145.5" width="3.5" height="2" fill="#ddd"/>
<rect x="495" y="150.0" width="3.5" height="2" fill="#ddd"/><rect x="509.5" y="150.0" width="3.5" height="2" fill="#ddd"/>
<rect x="540.5" y="138.5" width="17" height="16" fill="#2a2a2a"/>
<rect x="566.6" y="144" width="11.8" height="10.4" fill="#2a2a2a"/>
<rect x="521.9" y="421.5" width="38.2" height="20.6" fill="#333"/>
<text x="525.8" y="458.7" font-size="8.8" fill="#fff" textLength="30.4" lengthAdjust="spacingAndGlyphs">seesaw</text>
<text x="525.8" y="469.5" font-size="12.5" fill="#fff" textLength="30.4" lengthAdjust="spacingAndGlyphs">ONLY</text>
<rect x="517" y="480" width="5" height="14" fill="#b8a77c"/><rect x="561" y="480" width="5" height="14" fill="#b8a77c"/>
<rect x="520.9" y="472.5" width="41.1" height="29.3" fill="#e4e4e4"/>
<rect x="531" y="475" width="4" height="3" fill="#111"/><rect x="548" y="475" width="4" height="3" fill="#111"/><rect x="529" y="486" width="2" height="7" fill="#111"/><rect x="552" y="486" width="2" height="7" fill="#111"/>
<rect x="487.6" y="475.4" width="20.6" height="20.6" fill="#1a1a1a" stroke="#fff" stroke-width="0.6"/><circle cx="497.9" cy="485.7" r="7" fill="#ddd"/><rect x="495" y="479" width="4" height="3" fill="#224"/>
<g transform="translate(577.7,493.5) rotate(0.0)"><rect x="-7.8" y="-3.5" width="15.6" height="7.0" fill="#b8a77c"/><rect x="-3.1" y="-3.5" width="6.2" height="7.0" fill="#eee"/><rect x="-2.3" y="-2.7" width="4.6" height="5.4" fill="#ee2"/></g>
<g transform="translate(596.3,493.5) rotate(0.0)"><rect x="-6.9" y="-2.5" width="13.8" height="5.0" fill="#b8a77c"/><rect x="-2.8" y="-2.5" width="5.5" height="5.0" fill="#eee"/><rect x="-2.0" y="-1.7" width="3.9" height="3.4" fill="#333"/></g>
<circle cx="481" cy="455.5" r="2" fill="#b8a77c"/>
<g transform="translate(668.7,360.5) rotate(45)"><rect x="-5.4" y="-9.5" width="1.8" height="19" fill="#ddd"/><rect x="-2.2" y="-9.5" width="1.8" height="19" fill="#ddd"/><rect x="1.0" y="-9.5" width="1.8" height="19" fill="#ddd"/><rect x="4.2" y="-9.5" width="1.8" height="19" fill="#ddd"/><rect x="-7.5" y="-6" width="15" height="12" fill="#333"/></g>
<g transform="translate(679.7,352.4) rotate(45.0)"><rect x="-5.5" y="-2.8" width="11.0" height="5.5" fill="#b8a77c"/><rect x="-2.2" y="-2.8" width="4.4" height="5.5" fill="#6a5040"/></g>
<g transform="translate(661.4,379.5) rotate(45.0)"><rect x="-5.5" y="-2.8" width="11.0" height="5.5" fill="#b8a77c"/><rect x="-2.2" y="-2.8" width="4.4" height="5.5" fill="#6a5040"/></g>
<g transform="translate(666.5,384.5) rotate(45.0)"><rect x="-5.5" y="-2.8" width="11.0" height="5.5" fill="#b8a77c"/><rect x="-2.2" y="-2.8" width="4.4" height="5.5" fill="#eee"/><rect x="-1.4" y="-1.9" width="2.8" height="3.9" fill="#333"/></g>
<circle cx="647.5" cy="393.4" r="8" fill="#8a8a8a"/><circle cx="647.5" cy="393.4" r="6.5" fill="#111"/><circle cx="647.5" cy="393.4" r="4.6" fill="#ddd"/><path d="M644.5,393.4 h6 M647.5,390.4 v6" stroke="#1a1a1a" stroke-width="1.3"/>
<g transform="translate(630.7,405.8) rotate(45)"><rect x="-4" y="-9" width="2" height="18" fill="#ddd"/><rect x="2" y="-9" width="2" height="18" fill="#ddd"/><rect x="-6.5" y="-5" width="13" height="10" fill="#333"/></g>
<circle cx="539" cy="288" r="134.6" fill="#009600"/>
<circle cx="539" cy="288" r="132" fill="#050505"/>
<defs><clipPath id="cpxclip"><circle cx="539" cy="288" r="132"/></clipPath></defs>
<g clip-path="url(#cpxclip)">
<g transform="rotate(-120 477.5 181.5)"><rect x="477.5" y="169.5" width="20" height="24" fill="#b0a078"/><circle cx="477.5" cy="181.5" r="12" fill="#b0a078"/></g>
<g transform="rotate(-140 444.8 208.9)"><rect x="444.8" y="196.9" width="20" height="24" fill="#b0a078"/><circle cx="444.8" cy="208.9" r="12" fill="#b0a078"/></g>
<g transform="rotate(-160 423.4 245.9)"><rect x="423.4" y="233.9" width="20" height="24" fill="#b0a078"/><circle cx="423.4" cy="245.9" r="12" fill="#b0a078"/></g>
<g transform="rotate(180 416.0 288.0)"><rect x="416.0" y="276.0" width="20" height="24" fill="#b0a078"/><circle cx="416.0" cy="288.0" r="12" fill="#b0a078"/></g>
<g transform="rotate(160 423.4 330.1)"><rect x="423.4" y="318.1" width="20" height="24" fill="#b0a078"/><circle cx="423.4" cy="330.1" r="12" fill="#b0a078"/></g>
<g transform="rotate(140 444.8 367.1)"><rect x="444.8" y="355.1" width="20" height="24" fill="#b0a078"/><circle cx="444.8" cy="367.1" r="12" fill="#b0a078"/></g>
<g transform="rotate(120 477.5 394.5)"><rect x="477.5" y="382.5" width="20" height="24" fill="#b0a078"/><circle cx="477.5" cy="394.5" r="12" fill="#b0a078"/></g>
<g transform="rotate(60 600.5 394.5)"><rect x="600.5" y="382.5" width="20" height="24" fill="#b0a078"/><circle cx="600.5" cy="394.5" r="12" fill="#b0a078"/></g>
<g transform="rotate(40 633.2 367.1)"><rect x="633.2" y="355.1" width="20" height="24" fill="#b0a078"/><circle cx="633.2" cy="367.1" r="12" fill="#b0a078"/></g>
<g transform="rotate(20 654.6 330.1)"><rect x="654.6" y="318.1" width="20" height="24" fill="#b0a078"/><circle cx="654.6" cy="330.1" r="12" fill="#b0a078"/></g>
<g transform="rotate(0 662.0 288.0)"><rect x="662.0" y="276.0" width="20" height="24" fill="#b0a078"/><circle cx="662.0" cy="288.0" r="12" fill="#b0a078"/></g>
<g transform="rotate(-20 654.6 245.9)"><rect x="654.6" y="233.9" width="20" height="24" fill="#b0a078"/><circle cx="654.6" cy="245.9" r="12" fill="#b0a078"/></g>
<g transform="rotate(-40 633.2 208.9)"><rect x="633.2" y="196.9" width="20" height="24" fill="#b0a078"/><circle cx="633.2" cy="208.9" r="12" fill="#b0a078"/></g>
<g transform="rotate(-60 600.5 181.5)"><rect x="600.5" y="169.5" width="20" height="24" fill="#b0a078"/><circle cx="600.5" cy="181.5" r="12" fill="#b0a078"/></g>
</g>
<circle cx="477.5" cy="181.5" r="8.3" fill="#b4f4b4"/>
<circle cx="444.8" cy="208.9" r="8.3" fill="#b4f4b4"/>
<circle cx="423.4" cy="245.9" r="8.3" fill="#b4f4b4"/>
<circle cx="416.0" cy="288.0" r="8.3" fill="#0a9e0a"/>
<circle cx="423.4" cy="330.1" r="8.3" fill="#0a9e0a"/>
<circle cx="444.8" cy="367.1" r="8.3" fill="#0a9e0a"/>
<circle cx="477.5" cy="394.5" r="8.3" fill="#0a9e0a"/>
<circle cx="600.5" cy="394.5" r="8.3" fill="#b4f4b4"/>
<circle cx="633.2" cy="367.1" r="8.3" fill="#b4f4b4"/>
<circle cx="654.6" cy="330.1" r="8.3" fill="#b4f4b4"/>
<circle cx="662.0" cy="288.0" r="8.3" fill="#0a9e0a"/>
<circle cx="654.6" cy="245.9" r="8.3" fill="#0a9e0a"/>
<circle cx="633.2" cy="208.9" r="8.3" fill="#0a9e0a"/>
<circle cx="600.5" cy="181.5" r="8.3" fill="#0a9e0a"/>
<rect x="462.5" y="166.5" width="30" height="30" fill="#30ff30" opacity="0.26"/>
<rect x="429.8" y="193.9" width="30" height="30" fill="#30ff30" opacity="0.26"/>
<rect x="408.4" y="230.9" width="30" height="30" fill="#30ff30" opacity="0.26"/>
<rect x="462.5" y="379.5" width="30" height="30" fill="#30ff30" opacity="0.26"/>
<rect x="585.5" y="379.5" width="30" height="30" fill="#30ff30" opacity="0.26"/>
<rect x="618.2" y="352.1" width="30" height="30" fill="#30ff30" opacity="0.26"/>
<rect x="639.6" y="315.1" width="30" height="30" fill="#30ff30" opacity="0.26"/>
<rect x="647.0" y="273.0" width="30" height="30" fill="#30ff30" opacity="0.26"/>
<circle cx="621.9" cy="386.8" r="1.7" fill="#b8a77c"/><circle cx="622" cy="193" r="1.7" fill="#b8a77c"/><circle cx="458.8" cy="385.9" r="1.7" fill="#b8a77c"/>
<rect x="521.1" y="157" width="38.3" height="28.5" fill="#dcdcdc"/>
<rect x="527" y="168" width="4" height="6" fill="#333"/><rect x="549" y="168" width="4" height="6" fill="#333"/><rect x="532" y="179" width="16" height="3" fill="#555"/>
<rect x="521" y="184" width="3" height="2.5" fill="#2f2"/><rect x="556.5" y="184" width="3" height="2.5" fill="#2f2"/>
<rect x="504.5" y="168" width="6.4" height="10" fill="#e8e8e8"/><rect x="505.5" y="170.5" width="4.4" height="5" fill="#2f2"/>
<rect x="569.6" y="168" width="6.4" height="10" fill="#e8e8e8"/><rect x="570.6" y="170.5" width="4.4" height="5" fill="#f11"/>
<text transform="translate(503.0,180.0) rotate(-90.0)" font-size="7.5" fill="#fff">On</text>
<text transform="translate(579.0,165.5) rotate(90.0)" font-size="8.0" fill="#fff">D13</text>
<rect x="529" y="192" width="18" height="24" fill="#2a2a2a"/>
<rect x="521.5" y="193.7" width="7" height="2.6" fill="#e0e0e0"/><rect x="547.5" y="193.7" width="7" height="2.6" fill="#e0e0e0"/>
<rect x="521.5" y="199.7" width="7" height="2.6" fill="#e0e0e0"/><rect x="547.5" y="199.7" width="7" height="2.6" fill="#e0e0e0"/>
<rect x="521.5" y="205.7" width="7" height="2.6" fill="#e0e0e0"/><rect x="547.5" y="205.7" width="7" height="2.6" fill="#e0e0e0"/>
<rect x="521.5" y="211.7" width="7" height="2.6" fill="#e0e0e0"/><rect x="547.5" y="211.7" width="7" height="2.6" fill="#e0e0e0"/>
<rect x="521.1" y="218.8" width="39.6" height="39.6" fill="#2e2e2e" stroke="#555" stroke-width="1" stroke-dasharray="1,1.5"/>
<rect x="468.3" y="270.0" width="3.2" height="4" fill="#b8a77c"/>
<rect x="468.3" y="293.5" width="3.2" height="4" fill="#b8a77c"/>
<rect x="506.3" y="270.0" width="3.2" height="4" fill="#b8a77c"/>
<rect x="506.3" y="293.5" width="3.2" height="4" fill="#b8a77c"/>
<rect x="471.3" y="267.3" width="35" height="33.4" fill="#e2e2e2"/>
<circle cx="488.8" cy="284" r="8.3" fill="#111"/>
<rect x="571.8" y="270.0" width="3.2" height="4" fill="#b8a77c"/>
<rect x="571.8" y="293.5" width="3.2" height="4" fill="#b8a77c"/>
<rect x="609.8" y="270.0" width="3.2" height="4" fill="#b8a77c"/>
<rect x="609.8" y="293.5" width="3.2" height="4" fill="#b8a77c"/>
<rect x="574.8" y="267.3" width="35" height="33.4" fill="#e2e2e2"/>
<circle cx="592.3" cy="284" r="8.3" fill="#111"/>
<path d="M470.4,277 L462,282.3 L470.4,287.6 Z" fill="#eee"/><path d="M610.4,277 L618.8,282.3 L610.4,287.6 Z" fill="#eee"/>
<rect x="527.0" y="270.0" width="2.6" height="3.5" fill="#b8a77c"/>
<rect x="527.0" y="282.0" width="2.6" height="3.5" fill="#b8a77c"/>
<rect x="552.0" y="270.0" width="2.6" height="3.5" fill="#b8a77c"/>
<rect x="552.0" y="282.0" width="2.6" height="3.5" fill="#b8a77c"/>
<rect x="528.8" y="268.6" width="24.2" height="19.1" fill="#e0e0e0"/><circle cx="540.9" cy="278.2" r="4" fill="#111"/>
<text x="485.3" y="267.3" font-size="7.5" fill="#fff">D4</text>
<text x="586.2" y="267.3" font-size="7.5" fill="#fff">D5</text>
<text x="530.0" y="267.0" font-size="7.0" fill="#fff" textLength="21.8" lengthAdjust="spacingAndGlyphs">RESET</text>
<text x="512.0" y="267.0" font-size="7.5" fill="#fff">TX</text>
<text x="560.5" y="267.0" font-size="7.5" fill="#fff">RX</text>
<rect x="514.0" y="273" width="6" height="26" fill="#b8a77c"/><rect x="514.0" y="276" width="6" height="20" fill="#e6e6e6"/>
<rect x="561.5" y="273" width="6" height="26" fill="#b8a77c"/><rect x="561.5" y="276" width="6" height="20" fill="#e6e6e6"/>
<rect x="533" y="291" width="16" height="16" fill="#2a2a2a"/>
<text x="526.0" y="307.0" font-size="6.5" fill="#fff">Z</text>
<circle cx="528.3" cy="305" r="4" fill="none" stroke="#fff" stroke-width="0.9"/>
<text x="525.5" y="296.0" font-size="6.5" fill="#fff">Y</text>
<text x="535.0" y="309.0" font-size="6.5" fill="#fff">X</text>
<path d="M484,301.5 H513.5 L518.5,306.5 V336 L513.5,341 H484 L479,336 V306.5 Z" fill="#333"/>
<circle cx="512" cy="335" r="2.4" fill="none" stroke="#666" stroke-width="0.8"/>
<rect x="521.1" y="325.8" width="39.6" height="19.1" fill="#dcdcdc"/>
<rect x="532" y="327" width="18" height="7" fill="#111"/>
<rect x="523.5" y="318" width="5" height="7" fill="#b8a77c"/><rect x="523.5" y="346" width="5" height="7" fill="#b8a77c"/>
<rect x="538.5" y="318" width="5" height="7" fill="#b8a77c"/><rect x="538.5" y="346" width="5" height="7" fill="#b8a77c"/>
<rect x="552.5" y="318" width="5" height="7" fill="#b8a77c"/><rect x="552.5" y="346" width="5" height="7" fill="#b8a77c"/>
<rect x="518.5" y="378.1" width="42.2" height="39.6" fill="#777"/>
<rect x="522" y="378.1" width="35" height="30" fill="#6a6a6a"/>
<rect x="526" y="388" width="6" height="16" fill="#111"/><rect x="548" y="388" width="6" height="16" fill="#111"/>
<rect x="517" y="414" width="6" height="4" fill="#b8a77c"/><rect x="556" y="414" width="6" height="4" fill="#b8a77c"/>
<circle cx="514" cy="383" r="3.2" fill="none" stroke="#fff" stroke-width="0.9"/><path d="M512,383 h4 M514,381 v4" stroke="#fff" stroke-width="0.9"/>
<circle cx="567" cy="383" r="3.2" fill="none" stroke="#fff" stroke-width="0.9"/><path d="M565,383 h4" stroke="#fff" stroke-width="0.9"/>
<g transform="translate(510.5,396.0) rotate(90.0)"><rect x="-7.0" y="-3.5" width="14.0" height="7.0" fill="#b8a77c"/><rect x="-2.8" y="-3.5" width="5.6" height="7.0" fill="#333"/></g>
<g transform="translate(569.0,396.0) rotate(90.0)"><rect x="-7.0" y="-3.5" width="14.0" height="7.0" fill="#b8a77c"/><rect x="-2.8" y="-3.5" width="5.6" height="7.0" fill="#333"/></g>
<rect x="590" y="304" width="20" height="15.4" fill="#e2cf94"/><circle cx="598.5" cy="312" r="1" fill="#553"/>
<rect x="459.0" y="306.5" width="3" height="2" fill="#ddd"/><rect x="472.0" y="306.5" width="3" height="2" fill="#ddd"/>
<rect x="459.0" y="310.0" width="3" height="2" fill="#ddd"/><rect x="472.0" y="310.0" width="3" height="2" fill="#ddd"/>
<rect x="459.0" y="313.5" width="3" height="2" fill="#ddd"/><rect x="472.0" y="313.5" width="3" height="2" fill="#ddd"/>
<rect x="516.0" y="370.5" width="2" height="3" fill="#ddd"/>
<rect x="520.0" y="370.5" width="2" height="3" fill="#ddd"/>
<rect x="524.0" y="370.5" width="2" height="3" fill="#ddd"/>
<rect x="520.0" y="360.5" width="2" height="3" fill="#ddd"/>
<g transform="translate(493.0,209.8) rotate(-75.5)"><path d="M-12,-4 V-12 H-4 M4,12 H12 V4" stroke="#ddd" stroke-width="0.9" fill="none"/><path d="M-12,4 V12 H-4 M4,-12 H12 V-4" stroke="#ddd" stroke-width="0.9" fill="none"/><rect x="-10.5" y="-7.0" width="3" height="4" fill="#b8a77c"/><rect x="-10.5" y="3.0" width="3" height="4" fill="#b8a77c"/><rect x="7.5" y="-7.0" width="3" height="4" fill="#b8a77c"/><rect x="7.5" y="3.0" width="3" height="4" fill="#b8a77c"/><circle r="7.6" fill="#cfcfcf"/><circle cx="-0.5" cy="-0.6" r="7" fill="#ececec"/><path d="M-7,0 H0 V-7" stroke="#bbb" stroke-width="0.8" fill="none"/><rect x="0.5" y="1.5" width="3.5" height="3" fill="#1a1a5a"/></g>
<g transform="translate(461.3,242.0) rotate(-104.4)"><path d="M-12,-4 V-12 H-4 M4,12 H12 V4" stroke="#ddd" stroke-width="0.9" fill="none"/><path d="M-12,4 V12 H-4 M4,-12 H12 V-4" stroke="#ddd" stroke-width="0.9" fill="none"/><rect x="-10.5" y="-7.0" width="3" height="4" fill="#b8a77c"/><rect x="-10.5" y="3.0" width="3" height="4" fill="#b8a77c"/><rect x="7.5" y="-7.0" width="3" height="4" fill="#b8a77c"/><rect x="7.5" y="3.0" width="3" height="4" fill="#b8a77c"/><circle r="7.6" fill="#cfcfcf"/><circle cx="-0.5" cy="-0.6" r="7" fill="#ececec"/><path d="M-7,0 H0 V-7" stroke="#bbb" stroke-width="0.8" fill="none"/><rect x="0.5" y="1.5" width="3.5" height="3" fill="#1a1a5a"/></g>
<g transform="translate(451.1,287.5) rotate(-134.7)"><path d="M-12,-4 V-12 H-4 M4,12 H12 V4" stroke="#ddd" stroke-width="0.9" fill="none"/><path d="M-12,4 V12 H-4 M4,-12 H12 V-4" stroke="#ddd" stroke-width="0.9" fill="none"/><rect x="-10.5" y="-7.0" width="3" height="4" fill="#b8a77c"/><rect x="-10.5" y="3.0" width="3" height="4" fill="#b8a77c"/><rect x="7.5" y="-7.0" width="3" height="4" fill="#b8a77c"/><rect x="7.5" y="3.0" width="3" height="4" fill="#b8a77c"/><circle r="7.6" fill="#cfcfcf"/><circle cx="-0.5" cy="-0.6" r="7" fill="#ececec"/><path d="M-7,0 H0 V-7" stroke="#bbb" stroke-width="0.8" fill="none"/><rect x="0.5" y="1.5" width="3.5" height="3" fill="#1a1a5a"/></g>
<g transform="translate(461.3,334.0) rotate(194.4)"><path d="M-12,-4 V-12 H-4 M4,12 H12 V4" stroke="#ddd" stroke-width="0.9" fill="none"/><path d="M-12,4 V12 H-4 M4,-12 H12 V-4" stroke="#ddd" stroke-width="0.9" fill="none"/><rect x="-10.5" y="-7.0" width="3" height="4" fill="#b8a77c"/><rect x="-10.5" y="3.0" width="3" height="4" fill="#b8a77c"/><rect x="7.5" y="-7.0" width="3" height="4" fill="#b8a77c"/><rect x="7.5" y="3.0" width="3" height="4" fill="#b8a77c"/><circle r="7.6" fill="#cfcfcf"/><circle cx="-0.5" cy="-0.6" r="7" fill="#ececec"/><path d="M-7,0 H0 V-7" stroke="#bbb" stroke-width="0.8" fill="none"/><rect x="0.5" y="1.5" width="3.5" height="3" fill="#1a1a5a"/></g>
<g transform="translate(497.5,367.0) rotate(162.7)"><path d="M-12,-4 V-12 H-4 M4,12 H12 V4" stroke="#ddd" stroke-width="0.9" fill="none"/><path d="M-12,4 V12 H-4 M4,-12 H12 V-4" stroke="#ddd" stroke-width="0.9" fill="none"/><rect x="-10.5" y="-7.0" width="3" height="4" fill="#b8a77c"/><rect x="-10.5" y="3.0" width="3" height="4" fill="#b8a77c"/><rect x="7.5" y="-7.0" width="3" height="4" fill="#b8a77c"/><rect x="7.5" y="3.0" width="3" height="4" fill="#b8a77c"/><circle r="7.6" fill="#cfcfcf"/><circle cx="-0.5" cy="-0.6" r="7" fill="#ececec"/><path d="M-7,0 H0 V-7" stroke="#bbb" stroke-width="0.8" fill="none"/><rect x="0.5" y="1.5" width="3.5" height="3" fill="#1a1a5a"/></g>
<g transform="translate(583.4,367.0) rotate(105.7)"><path d="M-12,-4 V-12 H-4 M4,12 H12 V4" stroke="#ddd" stroke-width="0.9" fill="none"/><path d="M-12,4 V12 H-4 M4,-12 H12 V-4" stroke="#ddd" stroke-width="0.9" fill="none"/><rect x="-10.5" y="-7.0" width="3" height="4" fill="#b8a77c"/><rect x="-10.5" y="3.0" width="3" height="4" fill="#b8a77c"/><rect x="7.5" y="-7.0" width="3" height="4" fill="#b8a77c"/><rect x="7.5" y="3.0" width="3" height="4" fill="#b8a77c"/><circle r="7.6" fill="#cfcfcf"/><circle cx="-0.5" cy="-0.6" r="7" fill="#ececec"/><path d="M-7,0 H0 V-7" stroke="#bbb" stroke-width="0.8" fill="none"/><rect x="0.5" y="1.5" width="3.5" height="3" fill="#1a1a5a"/></g>
<g transform="translate(619.2,331.3) rotate(73.4)"><path d="M-12,-4 V-12 H-4 M4,12 H12 V4" stroke="#ddd" stroke-width="0.9" fill="none"/><path d="M-12,4 V12 H-4 M4,-12 H12 V-4" stroke="#ddd" stroke-width="0.9" fill="none"/><rect x="-10.5" y="-7.0" width="3" height="4" fill="#b8a77c"/><rect x="-10.5" y="3.0" width="3" height="4" fill="#b8a77c"/><rect x="7.5" y="-7.0" width="3" height="4" fill="#b8a77c"/><rect x="7.5" y="3.0" width="3" height="4" fill="#b8a77c"/><circle r="7.6" fill="#cfcfcf"/><circle cx="-0.5" cy="-0.6" r="7" fill="#ececec"/><path d="M-7,0 H0 V-7" stroke="#bbb" stroke-width="0.8" fill="none"/><rect x="0.5" y="1.5" width="3.5" height="3" fill="#1a1a5a"/></g>
<g transform="translate(629.4,288.0) rotate(45.0)"><path d="M-12,-4 V-12 H-4 M4,12 H12 V4" stroke="#ddd" stroke-width="0.9" fill="none"/><path d="M-12,4 V12 H-4 M4,-12 H12 V-4" stroke="#ddd" stroke-width="0.9" fill="none"/><rect x="-10.5" y="-7.0" width="3" height="4" fill="#b8a77c"/><rect x="-10.5" y="3.0" width="3" height="4" fill="#b8a77c"/><rect x="7.5" y="-7.0" width="3" height="4" fill="#b8a77c"/><rect x="7.5" y="3.0" width="3" height="4" fill="#b8a77c"/><circle r="7.6" fill="#cfcfcf"/><circle cx="-0.5" cy="-0.6" r="7" fill="#ececec"/><path d="M-7,0 H0 V-7" stroke="#bbb" stroke-width="0.8" fill="none"/><rect x="0.5" y="1.5" width="3.5" height="3" fill="#1a1a5a"/></g>
<g transform="translate(619.2,243.0) rotate(15.7)"><path d="M-12,-4 V-12 H-4 M4,12 H12 V4" stroke="#ddd" stroke-width="0.9" fill="none"/><path d="M-12,4 V12 H-4 M4,-12 H12 V-4" stroke="#ddd" stroke-width="0.9" fill="none"/><rect x="-10.5" y="-7.0" width="3" height="4" fill="#b8a77c"/><rect x="-10.5" y="3.0" width="3" height="4" fill="#b8a77c"/><rect x="7.5" y="-7.0" width="3" height="4" fill="#b8a77c"/><rect x="7.5" y="3.0" width="3" height="4" fill="#b8a77c"/><circle r="7.6" fill="#cfcfcf"/><circle cx="-0.5" cy="-0.6" r="7" fill="#ececec"/><path d="M-7,0 H0 V-7" stroke="#bbb" stroke-width="0.8" fill="none"/><rect x="0.5" y="1.5" width="3.5" height="3" fill="#1a1a5a"/></g>
<g transform="translate(585.0,210.0) rotate(-14.5)"><path d="M-12,-4 V-12 H-4 M4,12 H12 V4" stroke="#ddd" stroke-width="0.9" fill="none"/><path d="M-12,4 V12 H-4 M4,-12 H12 V-4" stroke="#ddd" stroke-width="0.9" fill="none"/><rect x="-10.5" y="-7.0" width="3" height="4" fill="#b8a77c"/><rect x="-10.5" y="3.0" width="3" height="4" fill="#b8a77c"/><rect x="7.5" y="-7.0" width="3" height="4" fill="#b8a77c"/><rect x="7.5" y="3.0" width="3" height="4" fill="#b8a77c"/><circle r="7.6" fill="#cfcfcf"/><circle cx="-0.5" cy="-0.6" r="7" fill="#ececec"/><path d="M-7,0 H0 V-7" stroke="#bbb" stroke-width="0.8" fill="none"/><rect x="0.5" y="1.5" width="3.5" height="3" fill="#1a1a5a"/></g>
<text transform="translate(487.5,196.5) rotate(-150)" font-size="7.8" fill="#fff" text-anchor="middle" dy="2.8">GND</text>
<text transform="translate(464.0,208.6) rotate(80)" font-size="7.8" fill="#fff" text-anchor="middle" dy="2.8">SCL</text>
<text transform="translate(450.5,225.8) rotate(60)" font-size="7.8" fill="#fff" text-anchor="middle" dy="2.8">A4</text>
<text transform="translate(442.8,241.9) rotate(80)" font-size="7.8" fill="#fff" text-anchor="middle" dy="2.8">SDA</text>
<text transform="translate(433.2,262.3) rotate(60)" font-size="7.8" fill="#fff" text-anchor="middle" dy="2.8">A5</text>
<text transform="translate(433.5,291.0) rotate(90)" font-size="7.8" fill="#fff" text-anchor="middle" dy="2.8">3.3V</text>
<text transform="translate(435.2,316.3) rotate(30)" font-size="7.8" fill="#fff" text-anchor="middle" dy="2.8">RX</text>
<text transform="translate(442.2,334.2) rotate(-60)" font-size="7.8" fill="#fff" text-anchor="middle" dy="2.8">A6</text>
<text transform="translate(455.5,351.5) rotate(35)" font-size="7.8" fill="#fff" text-anchor="middle" dy="2.8">TX</text>
<text transform="translate(465.2,364.8) rotate(-60)" font-size="7.8" fill="#fff" text-anchor="middle" dy="2.8">A7</text>
<text transform="translate(487.5,379.5) rotate(35)" font-size="7.8" fill="#fff" text-anchor="middle" dy="2.8">GND</text>
<text transform="translate(592.3,196.5) rotate(38)" font-size="7.8" fill="#fff" text-anchor="middle" dy="2.8">3.3V</text>
<text transform="translate(619.8,220.1) rotate(-60)" font-size="7.8" fill="#fff" text-anchor="middle" dy="2.8">A3</text>
<text transform="translate(640.3,254.0) rotate(-70)" font-size="7.8" fill="#fff" text-anchor="middle" dy="2.8">A2</text>
<text transform="translate(646.1,286.5) rotate(-90)" font-size="7.8" fill="#fff" text-anchor="middle" dy="2.8">GND</text>
<text transform="translate(640.3,324.3) rotate(-70)" font-size="7.8" fill="#fff" text-anchor="middle" dy="2.8">A1</text>
<text transform="translate(623.7,354.3) rotate(-50)" font-size="7.8" fill="#fff" text-anchor="middle" dy="2.8">A0</text>
<text transform="translate(594.9,383.6) rotate(-30)" font-size="7.8" fill="#fff" text-anchor="middle" dy="2.8">VOUT</text>
<path d="M494,243.5 q8.5,-8 17,0 q-8.5,8 -17,0 z" fill="none" stroke="#fff" stroke-width="1.3"/><circle cx="502.5" cy="243.5" r="2.6" fill="#fff"/>
<text x="498.5" y="257.5" font-size="8.0" fill="#fff">A8</text>
<text x="575.0" y="238.0" font-size="7.5" fill="#fff">A9</text>
<rect x="591" y="228" width="5" height="17" rx="2.5" fill="none" stroke="#fff" stroke-width="1.1"/><circle cx="593.5" cy="246" r="3.2" fill="#fff"/>
<text x="499.0" y="354.0" font-size="7.5" fill="#fff">A0</text>
<path d="M511,358 v-9 l7,-2 v9" stroke="#fff" stroke-width="1.2" fill="none"/><circle cx="509.5" cy="358" r="1.8" fill="#fff"/><circle cx="516.5" cy="356" r="1.8" fill="#fff"/>
<text x="535.0" y="360.0" font-size="7.5" fill="#fff">D7</text>
<text x="507.0" y="207.3" font-size="8.0" fill="#fff">D8</text>
<path d="M590,340 c0,-6 8,-6 8,0 c0,3 -3,4 -3,7 c0,2 -3,2 -3,0" stroke="#fff" stroke-width="1.2" fill="none"/>
<g transform="translate(505.0,190.0) rotate(0.0)"><rect x="-4.0" y="-2.0" width="8.0" height="4.0" fill="#b8a77c"/><rect x="-1.6" y="-2.0" width="3.2" height="4.0" fill="#eee"/><rect x="-0.8" y="-1.2" width="1.6" height="2.4" fill="#6a5a4a"/></g>
<g transform="translate(503.0,198.0) rotate(0.0)"><rect x="-4.0" y="-2.0" width="8.0" height="4.0" fill="#b8a77c"/><rect x="-1.6" y="-2.0" width="3.2" height="4.0" fill="#eee"/><rect x="-0.8" y="-1.2" width="1.6" height="2.4" fill="#6a5a4a"/></g>
<g transform="translate(509.0,200.0) rotate(0.0)"><rect x="-5.0" y="-2.0" width="10.0" height="4.0" fill="#b8a77c"/><rect x="-2.0" y="-2.0" width="4.0" height="4.0" fill="#eee"/><rect x="-1.2" y="-1.2" width="2.4" height="2.4" fill="#6a5a4a"/></g>
<g transform="translate(501.6,225.7) rotate(0.0)"><rect x="-6.5" y="-2.5" width="13.0" height="5.0" fill="#b8a77c"/><rect x="-2.6" y="-2.5" width="5.2" height="5.0" fill="#eee"/><rect x="-1.8" y="-1.7" width="3.6" height="3.4" fill="#6a5a4a"/></g>
<g transform="translate(501.6,232.2) rotate(0.0)"><rect x="-6.5" y="-2.5" width="13.0" height="5.0" fill="#b8a77c"/><rect x="-2.6" y="-2.5" width="5.2" height="5.0" fill="#eee"/><rect x="-1.8" y="-1.7" width="3.6" height="3.4" fill="#6a5a4a"/></g>
<g transform="translate(488.5,232.0) rotate(90.0)"><rect x="-7.5" y="-2.0" width="15.0" height="4.0" fill="#b8a77c"/><rect x="-3.0" y="-2.0" width="6.0" height="4.0" fill="#eee"/><rect x="-2.2" y="-1.2" width="4.4" height="2.4" fill="#6a5a4a"/></g>
<g transform="translate(485.3,243.6) rotate(0.0)"><rect x="-5.0" y="-2.5" width="10.0" height="5.0" fill="#b8a77c"/><rect x="-2.0" y="-2.5" width="4.0" height="5.0" fill="#eee"/><rect x="-1.2" y="-1.7" width="2.4" height="3.4" fill="#6a5a4a"/></g>
<g transform="translate(475.0,249.0) rotate(0.0)"><rect x="-4.0" y="-2.0" width="8.0" height="4.0" fill="#b8a77c"/><rect x="-1.6" y="-2.0" width="3.2" height="4.0" fill="#eee"/><rect x="-0.8" y="-1.2" width="1.6" height="2.4" fill="#6a5a4a"/></g>
<g transform="translate(470.0,259.0) rotate(0.0)"><rect x="-4.0" y="-2.0" width="8.0" height="4.0" fill="#b8a77c"/><rect x="-1.6" y="-2.0" width="3.2" height="4.0" fill="#eee"/><rect x="-0.8" y="-1.2" width="1.6" height="2.4" fill="#6a5a4a"/></g>
<g transform="translate(566.0,188.0) rotate(90.0)"><rect x="-5.0" y="-2.0" width="10.0" height="4.0" fill="#b8a77c"/><rect x="-2.0" y="-2.0" width="4.0" height="4.0" fill="#eee"/><rect x="-1.2" y="-1.2" width="2.4" height="2.4" fill="#6a5a4a"/></g>
<g transform="translate(576.0,188.0) rotate(0.0)"><rect x="-5.0" y="-2.0" width="10.0" height="4.0" fill="#b8a77c"/><rect x="-2.0" y="-2.0" width="4.0" height="4.0" fill="#eee"/><rect x="-1.2" y="-1.2" width="2.4" height="2.4" fill="#6a5a4a"/></g>
<g transform="translate(566.0,205.0) rotate(90.0)"><rect x="-7.0" y="-3.0" width="14.0" height="6.0" fill="#b8a77c"/><rect x="-2.8" y="-3.0" width="5.6" height="6.0" fill="#eee"/><rect x="-2.0" y="-2.2" width="4.0" height="4.4" fill="#6a5a4a"/></g>
<g transform="translate(575.0,228.0) rotate(0.0)"><rect x="-4.0" y="-2.0" width="8.0" height="4.0" fill="#b8a77c"/><rect x="-1.6" y="-2.0" width="3.2" height="4.0" fill="#eee"/><rect x="-0.8" y="-1.2" width="1.6" height="2.4" fill="#6a5a4a"/></g>
<g transform="translate(571.0,240.0) rotate(0.0)"><rect x="-4.0" y="-2.0" width="8.0" height="4.0" fill="#b8a77c"/><rect x="-1.6" y="-2.0" width="3.2" height="4.0" fill="#eee"/><rect x="-0.8" y="-1.2" width="1.6" height="2.4" fill="#6a5a4a"/></g>
<g transform="translate(566.0,257.0) rotate(0.0)"><rect x="-5.0" y="-2.0" width="10.0" height="4.0" fill="#b8a77c"/><rect x="-2.0" y="-2.0" width="4.0" height="4.0" fill="#eee"/><rect x="-1.2" y="-1.2" width="2.4" height="2.4" fill="#6a5a4a"/></g>
<g transform="translate(586.0,253.0) rotate(0.0)"><rect x="-5.0" y="-2.0" width="10.0" height="4.0" fill="#b8a77c"/><rect x="-2.0" y="-2.0" width="4.0" height="4.0" fill="#eee"/><rect x="-1.2" y="-1.2" width="2.4" height="2.4" fill="#6a5a4a"/></g>
<g transform="translate(576.0,296.0) rotate(0.0)"><rect x="-5.0" y="-2.0" width="10.0" height="4.0" fill="#b8a77c"/><rect x="-2.0" y="-2.0" width="4.0" height="4.0" fill="#eee"/><rect x="-1.2" y="-1.2" width="2.4" height="2.4" fill="#6a5a4a"/></g>
<g transform="translate(582.0,302.0) rotate(0.0)"><rect x="-4.0" y="-2.0" width="8.0" height="4.0" fill="#b8a77c"/><rect x="-1.6" y="-2.0" width="3.2" height="4.0" fill="#eee"/><rect x="-0.8" y="-1.2" width="1.6" height="2.4" fill="#6a5a4a"/></g>
<g transform="translate(571.0,307.0) rotate(0.0)"><rect x="-5.0" y="-2.0" width="10.0" height="4.0" fill="#b8a77c"/><rect x="-2.0" y="-2.0" width="4.0" height="4.0" fill="#eee"/><rect x="-1.2" y="-1.2" width="2.4" height="2.4" fill="#6a5a4a"/></g>
<g transform="translate(571.0,320.0) rotate(0.0)"><rect x="-4.0" y="-2.0" width="8.0" height="4.0" fill="#b8a77c"/><rect x="-1.6" y="-2.0" width="3.2" height="4.0" fill="#eee"/><rect x="-0.8" y="-1.2" width="1.6" height="2.4" fill="#6a5a4a"/></g>
<g transform="translate(583.0,325.0) rotate(0.0)"><rect x="-5.0" y="-2.0" width="10.0" height="4.0" fill="#b8a77c"/><rect x="-2.0" y="-2.0" width="4.0" height="4.0" fill="#eee"/><rect x="-1.2" y="-1.2" width="2.4" height="2.4" fill="#6a5a4a"/></g>
<g transform="translate(590.0,320.0) rotate(0.0)"><rect x="-4.0" y="-2.0" width="8.0" height="4.0" fill="#b8a77c"/><rect x="-1.6" y="-2.0" width="3.2" height="4.0" fill="#eee"/><rect x="-0.8" y="-1.2" width="1.6" height="2.4" fill="#6a5a4a"/></g>
<g transform="translate(478.0,341.0) rotate(0.0)"><rect x="-4.0" y="-2.0" width="8.0" height="4.0" fill="#b8a77c"/><rect x="-1.6" y="-2.0" width="3.2" height="4.0" fill="#eee"/><rect x="-0.8" y="-1.2" width="1.6" height="2.4" fill="#6a5a4a"/></g>
<g transform="translate(486.0,344.0) rotate(0.0)"><rect x="-4.0" y="-2.0" width="8.0" height="4.0" fill="#b8a77c"/><rect x="-1.6" y="-2.0" width="3.2" height="4.0" fill="#eee"/><rect x="-0.8" y="-1.2" width="1.6" height="2.4" fill="#6a5a4a"/></g>
<g transform="translate(469.0,300.0) rotate(0.0)"><rect x="-4.0" y="-2.0" width="8.0" height="4.0" fill="#b8a77c"/><rect x="-1.6" y="-2.0" width="3.2" height="4.0" fill="#eee"/><rect x="-0.8" y="-1.2" width="1.6" height="2.4" fill="#6a5a4a"/></g>
<g transform="translate(470.0,312.0) rotate(0.0)"><rect x="-4.0" y="-2.0" width="8.0" height="4.0" fill="#b8a77c"/><rect x="-1.6" y="-2.0" width="3.2" height="4.0" fill="#eee"/><rect x="-0.8" y="-1.2" width="1.6" height="2.4" fill="#6a5a4a"/></g>
<g transform="translate(526.0,360.0) rotate(0.0)"><rect x="-5.0" y="-2.0" width="10.0" height="4.0" fill="#b8a77c"/><rect x="-2.0" y="-2.0" width="4.0" height="4.0" fill="#eee"/><rect x="-1.2" y="-1.2" width="2.4" height="2.4" fill="#6a5a4a"/></g>
<g transform="translate(538.0,362.0) rotate(0.0)"><rect x="-5.0" y="-2.0" width="10.0" height="4.0" fill="#b8a77c"/><rect x="-2.0" y="-2.0" width="4.0" height="4.0" fill="#eee"/><rect x="-1.2" y="-1.2" width="2.4" height="2.4" fill="#6a5a4a"/></g>
<g transform="translate(552.0,355.0) rotate(0.0)"><rect x="-5.0" y="-2.5" width="10.0" height="5.0" fill="#b8a77c"/><rect x="-2.0" y="-2.5" width="4.0" height="5.0" fill="#eee"/><rect x="-1.2" y="-1.7" width="2.4" height="3.4" fill="#6a5a4a"/></g>
<g transform="translate(552.0,363.0) rotate(0.0)"><rect x="-5.0" y="-2.5" width="10.0" height="5.0" fill="#b8a77c"/><rect x="-2.0" y="-2.5" width="4.0" height="5.0" fill="#eee"/><rect x="-1.2" y="-1.7" width="2.4" height="3.4" fill="#6a5a4a"/></g>
<g transform="translate(527.0,350.0) rotate(90.0)"><rect x="-5.0" y="-2.0" width="10.0" height="4.0" fill="#b8a77c"/><rect x="-2.0" y="-2.0" width="4.0" height="4.0" fill="#eee"/><rect x="-1.2" y="-1.2" width="2.4" height="2.4" fill="#6a5a4a"/></g>
<g transform="translate(554.0,349.0) rotate(90.0)"><rect x="-5.0" y="-2.0" width="10.0" height="4.0" fill="#b8a77c"/><rect x="-2.0" y="-2.0" width="4.0" height="4.0" fill="#eee"/><rect x="-1.2" y="-1.2" width="2.4" height="2.4" fill="#6a5a4a"/></g>
<rect x="462.5" y="305.5" width="9.0" height="11.0" fill="#2a2a2a"/>
<rect x="566.0" y="309.0" width="8.0" height="8.0" fill="#2a2a2a"/>
<rect x="569.5" y="326.5" width="9.0" height="7.0" fill="#2a2a2a"/>
<rect x="515.0" y="363.5" width="12.0" height="7.0" fill="#2a2a2a"/>
<rect x="561.0" y="289.0" width="10.0" height="8.0" fill="#2a2a2a"/>
<g transform="translate(0.0,0.0)">
<polygon points="21.2,127.3 28.6,134 28.6,208.8 21.2,202" fill="#0e0e0e"/>
<polygon points="6,146.5 21.2,146.5 21.2,151.6 28.6,159 28.6,160.6 6,160.6" fill="#999"/>
<rect x="6" y="158.9" width="22.6" height="1.7" fill="#4a4a4a"/>
<polygon points="135.8,134 142.1,128.2 142.1,203 135.8,208.8" fill="#777"/>
<rect x="28.6" y="134" width="107.2" height="74.8" fill="#333"/>
<polygon points="142.1,146.7 157.5,146.7 157.5,159.4 135.8,159.4 135.8,152.5" fill="#999"/>
<rect x="135.8" y="159.2" width="21.7" height="1.6" fill="#4a4a4a"/>
<polygon points="27.2,104.6 135.8,104.6 142.1,111 142.1,128.2 135.8,134 28.6,134 21.2,127.3 21.2,110.5" fill="#999"/>
<path d="M27,92 L61.7,105.7 C72,109.5 70,123.5 56.2,125.1 L44,124 L12.3,100.2 C8,95 14,90 27,92 Z" fill="#d6d6d6"/>
<path d="M27,90.5 L61.7,104.2 C72,108 70,122 56.2,123.6 L44,122.5 L12.3,98.7 C8,93.5 14,88.5 27,90.5 Z" fill="#fff"/>
<path d="M15,92.5 C18,89.5 24,89.3 27.5,91" fill="none" stroke="#ccc" stroke-width="1"/>
<ellipse cx="53" cy="113" rx="10.5" ry="5.6" fill="#6e6e6e"/>
<ellipse cx="53" cy="112.2" rx="10.5" ry="5.4" fill="#888"/>
<text x="77.4" y="121.6" font-weight="bold" font-size="11.2" fill="#f6c41c" textLength="52" lengthAdjust="spacingAndGlyphs">SERVO</text>
<path d="M142,176 L157,171.4" stroke="#f0e600" stroke-width="2.5"/>
<path d="M142,180 L157,184.7" stroke="#e00000" stroke-width="2.5"/>
<path d="M142,188 L157,198" stroke="#111" stroke-width="2.5"/>
</g>
<g transform="translate(172.8,-83.3)">
<polygon points="21.2,127.3 28.6,134 28.6,208.8 21.2,202" fill="#0e0e0e"/>
<polygon points="6,146.5 21.2,146.5 21.2,151.6 28.6,159 28.6,160.6 6,160.6" fill="#999"/>
<rect x="6" y="158.9" width="22.6" height="1.7" fill="#4a4a4a"/>
<polygon points="135.8,134 142.1,128.2 142.1,203 135.8,208.8" fill="#777"/>
<rect x="28.6" y="134" width="107.2" height="74.8" fill="#333"/>
<polygon points="142.1,146.7 157.5,146.7 157.5,159.4 135.8,159.4 135.8,152.5" fill="#999"/>
<rect x="135.8" y="159.2" width="21.7" height="1.6" fill="#4a4a4a"/>
<polygon points="27.2,104.6 135.8,104.6 142.1,111 142.1,128.2 135.8,134 28.6,134 21.2,127.3 21.2,110.5" fill="#999"/>
<path d="M27,92 L61.7,105.7 C72,109.5 70,123.5 56.2,125.1 L44,124 L12.3,100.2 C8,95 14,90 27,92 Z" fill="#d6d6d6"/>
<path d="M27,90.5 L61.7,104.2 C72,108 70,122 56.2,123.6 L44,122.5 L12.3,98.7 C8,93.5 14,88.5 27,90.5 Z" fill="#fff"/>
<path d="M15,92.5 C18,89.5 24,89.3 27.5,91" fill="none" stroke="#ccc" stroke-width="1"/>
<ellipse cx="53" cy="113" rx="10.5" ry="5.6" fill="#6e6e6e"/>
<ellipse cx="53" cy="112.2" rx="10.5" ry="5.4" fill="#888"/>
<text x="77.4" y="121.6" font-weight="bold" font-size="11.2" fill="#f6c41c" textLength="52" lengthAdjust="spacingAndGlyphs">SERVO</text>
<path d="M142,176 L157,171.4" stroke="#f0e600" stroke-width="2.5"/>
<path d="M142,180 L157,184.7" stroke="#e00000" stroke-width="2.5"/>
<path d="M142,188 L157,198" stroke="#111" stroke-width="2.5"/>
</g>
<path d="M157.0,198.0 C161.9,197.7 175.6,197.9 186.6,196.0 C197.6,194.1 210.8,192.0 223.0,186.8 C235.2,181.6 248.5,171.7 259.7,164.8 C270.9,157.9 275.4,149.9 290.0,145.2 C304.6,140.5 332.0,136.2 347.5,136.5 C363.0,136.8 373.1,143.5 383.0,147.0 C392.9,150.5 400.5,154.7 406.7,157.3 C412.9,159.9 415.8,160.9 420.0,162.8 C424.2,164.7 429.8,167.6 431.8,168.5" fill="none" stroke="#111" stroke-width="5.4" stroke-linecap="round"/><path d="M157.0,198.0 C161.9,197.7 175.6,197.9 186.6,196.0 C197.6,194.1 210.8,192.0 223.0,186.8 C235.2,181.6 248.5,171.7 259.7,164.8 C270.9,157.9 275.4,149.9 290.0,145.2 C304.6,140.5 332.0,136.2 347.5,136.5 C363.0,136.8 373.1,143.5 383.0,147.0 C392.9,150.5 400.5,154.7 406.7,157.3 C412.9,159.9 415.8,160.9 420.0,162.8 C424.2,164.7 429.8,167.6 431.8,168.5" fill="none" stroke="#333" stroke-width="4.0" stroke-linecap="round"/>
<path d="M157.0,184.7 C161.9,184.4 175.6,184.9 186.6,183.1 C197.6,181.3 210.8,178.9 223.0,174.0 C235.2,169.1 248.5,159.6 259.7,153.9 C270.9,148.2 275.4,143.2 290.0,139.6 C304.6,136.0 334.0,132.3 347.5,132.2 C361.0,132.1 362.5,135.5 371.2,138.8 C379.9,142.1 391.2,148.4 399.7,151.9 C408.2,155.4 418.5,158.4 422.3,159.7" fill="none" stroke="#a00000" stroke-width="5.4" stroke-linecap="round"/><path d="M157.0,184.7 C161.9,184.4 175.6,184.9 186.6,183.1 C197.6,181.3 210.8,178.9 223.0,174.0 C235.2,169.1 248.5,159.6 259.7,153.9 C270.9,148.2 275.4,143.2 290.0,139.6 C304.6,136.0 334.0,132.3 347.5,132.2 C361.0,132.1 362.5,135.5 371.2,138.8 C379.9,142.1 391.2,148.4 399.7,151.9 C408.2,155.4 418.5,158.4 422.3,159.7" fill="none" stroke="#d40000" stroke-width="4.0" stroke-linecap="round"/>
<path d="M157.0,171.4 C161.9,170.9 175.6,170.5 186.6,168.5 C197.6,166.5 210.8,164.0 223.0,159.4 C235.2,154.8 248.5,145.8 259.7,141.0 C270.9,136.2 275.4,133.1 290.0,130.8 C304.6,128.5 334.0,126.9 347.5,127.0 C361.0,127.1 363.3,129.3 371.2,131.7 C379.1,134.1 387.9,138.0 395.0,141.2 C402.1,144.4 410.4,149.1 413.5,150.7" fill="none" stroke="#d6cc00" stroke-width="5.4" stroke-linecap="round"/><path d="M157.0,171.4 C161.9,170.9 175.6,170.5 186.6,168.5 C197.6,166.5 210.8,164.0 223.0,159.4 C235.2,154.8 248.5,145.8 259.7,141.0 C270.9,136.2 275.4,133.1 290.0,130.8 C304.6,128.5 334.0,126.9 347.5,127.0 C361.0,127.1 363.3,129.3 371.2,131.7 C379.1,134.1 387.9,138.0 395.0,141.2 C402.1,144.4 410.4,149.1 413.5,150.7" fill="none" stroke="#f6f000" stroke-width="4.0" stroke-linecap="round"/>
<path d="M329.7,114.6 C336.6,113.5 358.3,108.9 371.2,108.0 C384.1,107.1 395.7,107.6 406.8,109.2 C417.9,110.8 430.6,113.8 437.7,117.5 C444.8,121.2 447.6,126.6 449.6,131.7 C451.6,136.8 450.9,143.6 449.6,148.3 C448.3,153.0 443.0,157.8 441.7,159.7" fill="none" stroke="#111" stroke-width="5.4" stroke-linecap="round"/><path d="M329.7,114.6 C336.6,113.5 358.3,108.9 371.2,108.0 C384.1,107.1 395.7,107.6 406.8,109.2 C417.9,110.8 430.6,113.8 437.7,117.5 C444.8,121.2 447.6,126.6 449.6,131.7 C451.6,136.8 450.9,143.6 449.6,148.3 C448.3,153.0 443.0,157.8 441.7,159.7" fill="none" stroke="#333" stroke-width="4.0" stroke-linecap="round"/>
<path d="M330.4,101.3 C337.2,100.6 358.5,97.4 371.2,97.3 C383.9,97.2 396.5,98.3 406.8,100.9 C417.1,103.5 427.1,108.4 433.0,112.7 C438.9,117.0 441.2,122.2 442.4,127.0 C443.6,131.8 441.8,137.2 440.0,141.2 C438.2,145.1 433.2,149.1 431.8,150.7" fill="none" stroke="#a00000" stroke-width="5.4" stroke-linecap="round"/><path d="M330.4,101.3 C337.2,100.6 358.5,97.4 371.2,97.3 C383.9,97.2 396.5,98.3 406.8,100.9 C417.1,103.5 427.1,108.4 433.0,112.7 C438.9,117.0 441.2,122.2 442.4,127.0 C443.6,131.8 441.8,137.2 440.0,141.2 C438.2,145.1 433.2,149.1 431.8,150.7" fill="none" stroke="#d40000" stroke-width="4.0" stroke-linecap="round"/>
<path d="M329.7,87.8 C336.6,88.2 358.3,89.2 371.2,90.2 C384.1,91.2 398.1,91.9 406.8,93.7 C415.5,95.5 419.6,98.1 423.4,100.9 C427.2,103.7 428.4,106.5 429.4,110.4 C430.4,114.4 430.6,119.7 429.4,124.6 C428.2,129.5 423.5,137.4 422.3,140.0" fill="none" stroke="#d6cc00" stroke-width="5.4" stroke-linecap="round"/><path d="M329.7,87.8 C336.6,88.2 358.3,89.2 371.2,90.2 C384.1,91.2 398.1,91.9 406.8,93.7 C415.5,95.5 419.6,98.1 423.4,100.9 C427.2,103.7 428.4,106.5 429.4,110.4 C430.4,114.4 430.6,119.7 429.4,124.6 C428.2,129.5 423.5,137.4 422.3,140.0" fill="none" stroke="#f6f000" stroke-width="4.0" stroke-linecap="round"/>
<circle cx="157.0" cy="171.4" r="3.2" fill="#b8e860" stroke="#3c3" stroke-width="1.2"/>
<circle cx="157.0" cy="184.7" r="3.2" fill="#8a4010" stroke="#3c3" stroke-width="1.2"/>
<circle cx="157.0" cy="198.0" r="3.2" fill="#1a4a1a" stroke="#3c3" stroke-width="1.2"/>
<circle cx="329.8" cy="88.1" r="3.2" fill="#b8e860" stroke="#3c3" stroke-width="1.2"/>
<circle cx="329.8" cy="101.4" r="3.2" fill="#8a4010" stroke="#3c3" stroke-width="1.2"/>
<circle cx="329.8" cy="114.7" r="3.2" fill="#1a4a1a" stroke="#3c3" stroke-width="1.2"/>
<circle cx="413.5" cy="150.7" r="3.2" fill="#b8e860" stroke="#3c3" stroke-width="1.2"/>
<circle cx="422.3" cy="159.7" r="3.2" fill="#8a4010" stroke="#3c3" stroke-width="1.2"/>
<circle cx="431.8" cy="168.5" r="3.2" fill="#1a4a1a" stroke="#3c3" stroke-width="1.2"/>
<circle cx="422.3" cy="140.0" r="3.2" fill="#b8e860" stroke="#3c3" stroke-width="1.2"/>
<circle cx="431.8" cy="150.7" r="3.2" fill="#8a4010" stroke="#3c3" stroke-width="1.2"/>
<circle cx="441.7" cy="159.7" r="3.2" fill="#1a4a1a" stroke="#3c3" stroke-width="1.2"/>
<g stroke="#8c8c8c" stroke-width="2.1" fill="none"><path d="M672.8,532.8 V520.2 Q672.8,517.2 676,517.2 H677.8 M669.9,522.7 H676.7 M681.6,522.7 V530.4 M681.6,526 Q682.5,522.4 686.5,522.4 M693.4,522 V532.8 M701.2,516.5 V530 Q701.2,532.8 704.8,532.8 M698,522.7 H705.5 M708.5,522.8 H717 L708.8,532.1 H716.2 M725.1,522.8 V532.8 M731.3,522.4 V532.8 M731.3,525.5 Q732.2,522.6 735.2,522.6 Q738.9,522.6 738.9,526.5 V530.2 M752.8,522.1 V534.5 Q752.8,537.9 749.5,537.9 H746.3"/><ellipse cx="747.9" cy="527.3" rx="4.1" ry="4.6"/></g>
<g stroke="#8c8c8c" stroke-width="1.3" fill="#fff"><circle cx="681.4" cy="532.4" r="1.9"/><circle cx="693.1" cy="516.9" r="1.9"/><circle cx="718.1" cy="532.1" r="1.9"/><circle cx="724.7" cy="516.9" r="1.9"/><circle cx="738.9" cy="532.1" r="1.9"/></g>
</svg></body></html>
